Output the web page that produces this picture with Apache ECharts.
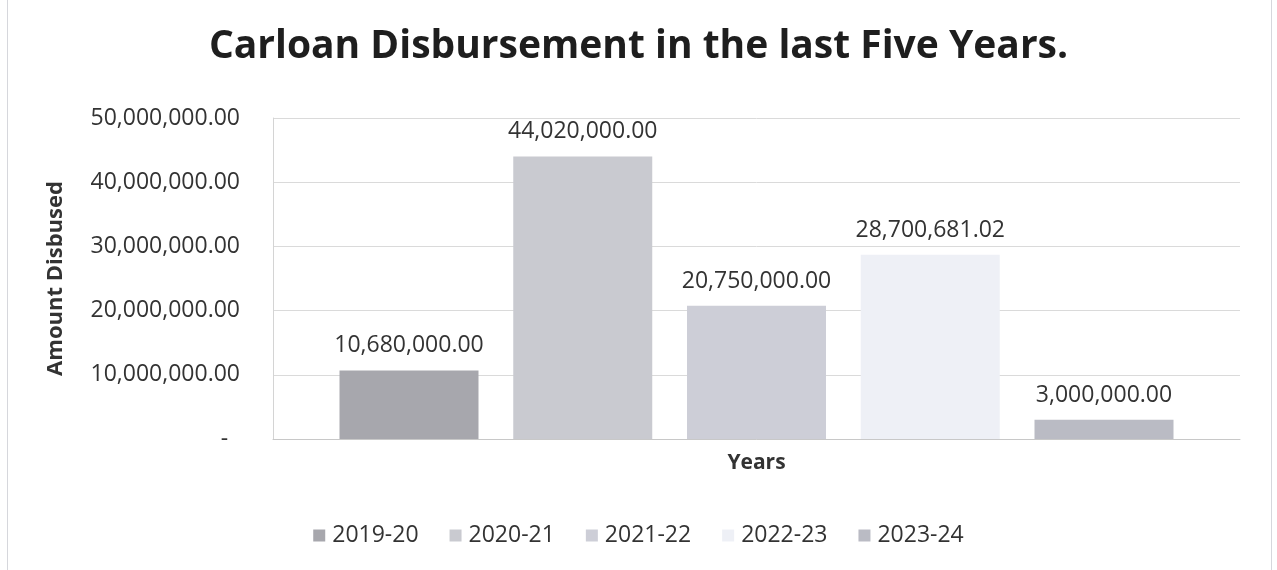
<!DOCTYPE html>
<html>
<head>
<meta charset="utf-8">
<script src="https://cdn.jsdelivr.net/npm/echarts@6/dist/echarts.min.js"></script>
<style>
html,body{margin:0;padding:0;background:#fff;}
#c{width:1277px;height:570px;}
</style>
</head>
<body>
<div id="c"></div>
<script>
const categories = ['Years'];
const seriesNames = ['2019-20', '2020-21', '2021-22', '2022-23', '2023-24'];
const seriesValues = [10680000, 44020000, 20750000, 28700681.02, 3000000];
const seriesColors = ['#a7a7ad', '#c9cad0', '#cdced7', '#eef0f6', '#babbc4'];
const yTicks = { min: 0, max: 50000000, interval: 10000000 };

const fmt = v => Number(v).toLocaleString('en-US', {minimumFractionDigits: 2, maximumFractionDigits: 2});
const FONT = '"Open Sans", sans-serif';

const chart = echarts.init(document.getElementById('c'), null, {renderer: 'canvas'});
chart.setOption({
  backgroundColor: '#ffffff',
  animation: false,
  textStyle: {fontFamily: FONT},
  title: {
    text: 'Carloan Disbursement in the last Five Years.',
    left: 'center',
    top: 22,
    textStyle: {fontFamily: FONT, fontSize: 39, fontWeight: 'bold', color: '#1e1e1e'}
  },
  graphic: [{
    type: 'rect',
    shape: {x: 7.5, y: -5, width: 1264, height: 580},
    style: {fill: 'none', stroke: '#d6d7dc', lineWidth: 1},
    silent: true
  }],
  legend: {
    data: seriesNames,
    bottom: 18,
    left: 'center',
    icon: 'rect',
    itemWidth: 12,
    itemHeight: 12,
    itemGap: 31,
    textStyle: {fontFamily: FONT, fontSize: 23, color: '#333', padding: [0, 0, 0, 2]}
  },
  grid: {left: 273, right: 37, top: 118, bottom: 131, containLabel: false},
  xAxis: {
    type: 'category',
    data: categories,
    axisLine: {lineStyle: {color: '#c8c8c8'}},
    axisTick: {show: false},
    axisLabel: {fontFamily: FONT, fontSize: 21, fontWeight: 'bold', color: '#333', margin: 14}
  },
  yAxis: {
    type: 'value',
    min: yTicks.min, max: yTicks.max, interval: yTicks.interval,
    name: 'Amount Disbused',
    nameLocation: 'middle',
    nameGap: 206,
    nameTextStyle: {fontFamily: FONT, fontSize: 22, fontWeight: 'bold', color: '#333'},
    axisLine: {show: true, lineStyle: {color: '#d4d4d4'}},
    axisTick: {show: false},
    splitLine: {lineStyle: {color: '#dadada', width: 1}},
    axisLabel: {
      fontFamily: FONT, fontSize: 23, color: '#333', margin: 33,
      formatter: v => v === 0 ? '-  ' : fmt(v)
    }
  },
  series: seriesNames.map((name, i) => ({
    name: name,
    type: 'bar',
    data: [seriesValues[i]],
    barWidth: 139,
    barGap: '25%',
    itemStyle: {color: seriesColors[i]},
    label: {
      show: true, position: 'top', distance: 13,
      fontFamily: FONT, fontSize: 23, color: '#333',
      formatter: p => fmt(p.value)
    }
  }))
});
</script>
</body>
</html>
